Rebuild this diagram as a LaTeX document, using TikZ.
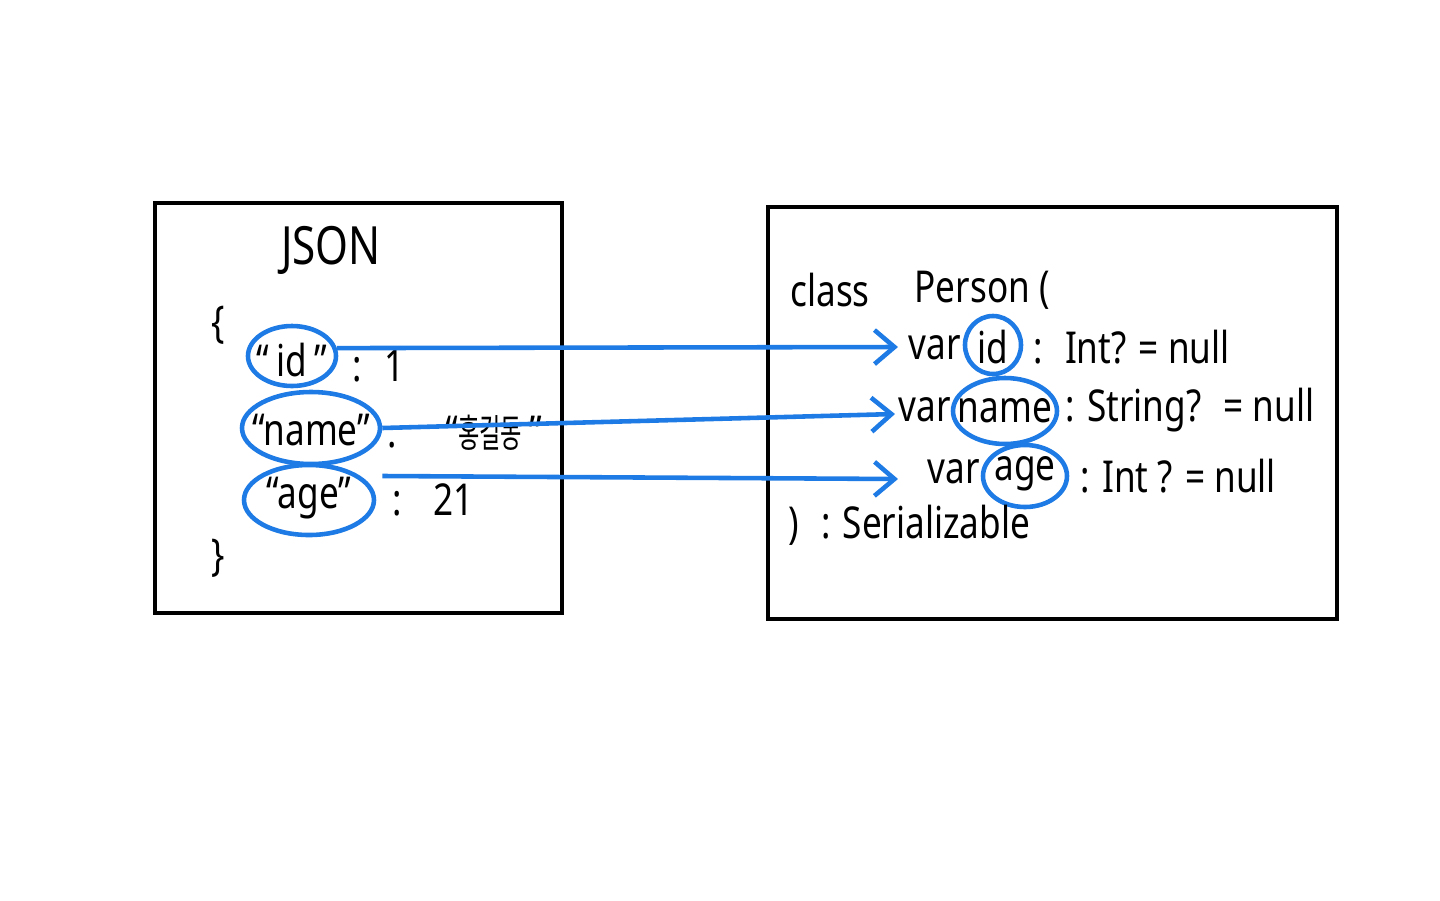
\documentclass[tikz,border=0pt]{standalone}
\usepackage{fontspec}
\setmainfont{Noto Sans}[FakeStretch=0.8]
\newfontfamily\kofont{Noto Sans CJK KR}[FakeStretch=0.6]
\usepackage{tikz}
\usetikzlibrary{arrows.meta,shapes.geometric}
\definecolor{bleu}{RGB}{30,122,228}

\begin{document}
\begin{tikzpicture}[
    >={Straight Barb[length=2mm,width=3.4mm]},
    boite/.style={
        draw,
        line width=1.1pt
    },
    ovale/.style={
        ellipse,
        draw=bleu,
        line width=1.3pt,
        inner sep=0pt
    },
    texte/.style={
        inner sep=0pt,
        font=\fontsize{12.5}{15}\selectfont
    },
    fleche/.style={
        ->,
        draw=bleu,
        line width=1.3pt
    }
]

\useasboundingbox (0,0) rectangle (14.4,-9);

\draw[boite] (1.55,-2.03) rectangle (5.62,-6.13);
\draw[boite] (7.68,-2.07) rectangle (13.37,-6.19);

\node[texte, font=\fontsize{15}{18}\selectfont] (json) at (3.31,-2.50) {JSON};
\node[texte] (ouvre) at (2.18,-3.25) {\{};
\node[texte] (ferme) at (2.18,-5.58) {\}};

\node[ovale, minimum width=0.88cm, minimum height=0.60cm] (idj) at (2.92,-3.56) {};
\node[ovale, minimum width=1.38cm, minimum height=0.72cm] (namej) at (3.11,-4.28) {};
\node[ovale, minimum width=1.30cm, minimum height=0.70cm] (agej) at (3.09,-5.00) {};

\node[texte] (idjt) at (2.92,-3.60) {“\,id\,”};
\node[texte] (namejt) at (3.11,-4.30) {“name”};
\node[texte] (agejt) at (3.09,-4.98) {“age”};

\node[texte, anchor=west] (valid) at (3.52,-3.66) {:\enspace 1};
\node[texte, anchor=west] (valname) at (3.87,-4.33)
{.\hspace{1.1em}“{\kofont\fontsize{11}{12}\selectfont 홍길동}\,”};
\node[texte, anchor=west] (valage) at (3.92,-5.00) {:\enspace\ 21};

\node[texte] (class) at (8.30,-2.90) {class};
\node[texte, anchor=west] (person) at (9.14,-2.90) {Person (};

\node[texte, anchor=west] (var1) at (9.08,-3.48) {var};
\node[ovale, minimum width=0.56cm, minimum height=0.58cm] (idk) at (9.93,-3.45) {};
\node[texte] (idkt) at (9.93,-3.47) {id};
\node[texte, anchor=west] (type1) at (10.33,-3.47) {:\enspace Int? = null};

\node[texte, anchor=west] (var2) at (8.98,-4.10) {var};
\node[ovale, minimum width=1.04cm, minimum height=0.66cm] (namek) at (10.05,-4.11) {};
\node[texte] (namekt) at (10.05,-4.11) {name};
\node[texte, anchor=west] (type2) at (10.65,-4.10) {: String?\enspace = null};

\node[texte, anchor=west] (var3) at (9.27,-4.72) {var};
\node[ovale, minimum width=0.84cm, minimum height=0.62cm] (agek) at (10.25,-4.76) {};
\node[texte] (agekt) at (10.25,-4.74) {age};
\node[texte, anchor=west] (type3) at (10.80,-4.76) {: Int ? = null};

\node[texte, anchor=west] (fin) at (7.88,-5.25) {)\enspace : Serializable};

\coordinate (bout1) at (8.98,-3.47);
\coordinate (bout2) at (8.95,-4.14);
\coordinate (bout3) at (8.98,-4.79);

\draw[fleche] (idj.10) -- (bout1);
\draw[fleche] (namej.east) -- (bout2);
\draw[fleche] ([xshift=2.2mm]agej.25) -- (bout3);

\end{tikzpicture}
\end{document}
